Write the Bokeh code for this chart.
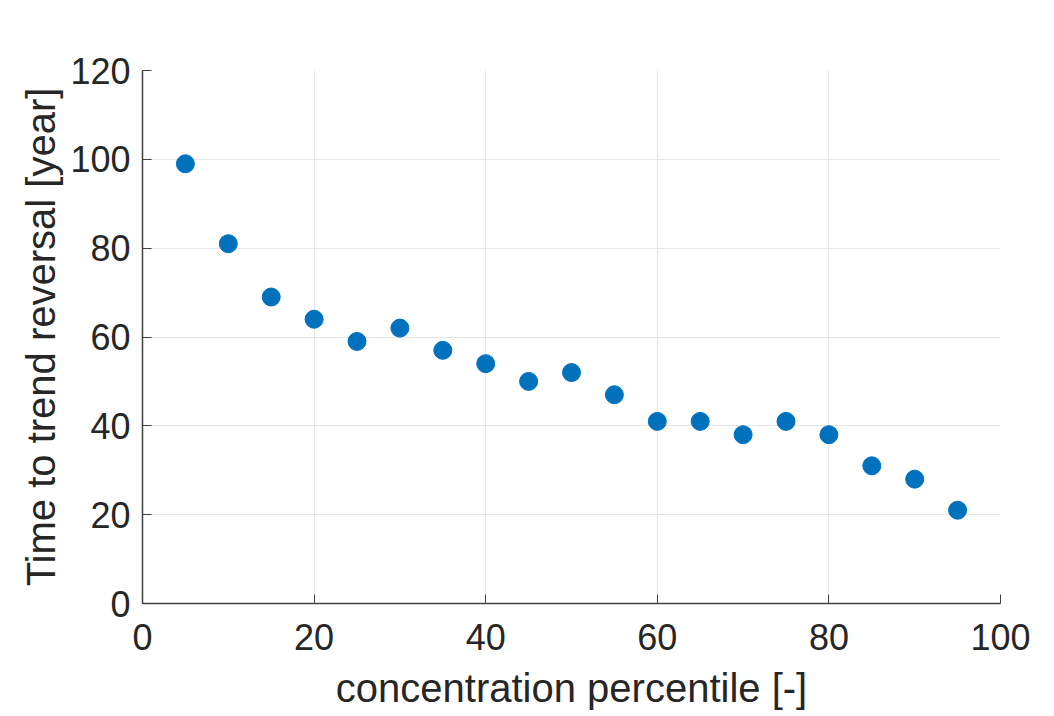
from bokeh.plotting import figure
from bokeh.models import Range1d, FixedTicker
from bokeh.embed import file_html
from bokeh.resources import INLINE

percentile = [5, 10, 15, 20, 25, 30, 35, 40, 45, 50, 55, 60, 65, 70, 75, 80, 85, 90, 95]
years = [99, 81, 69, 64, 59, 62, 57, 54, 50, 52, 47, 41, 41, 38, 41, 38, 31, 28, 21]
x_ticks = [0, 20, 40, 60, 80, 100]
y_ticks = [0, 20, 40, 60, 80, 100, 120]

FONT = "Liberation Sans"
TXT = "#262626"

p = figure(width=1038, height=700, frame_width=858, frame_height=533,
           output_backend="svg", toolbar_location=None,
           x_range=Range1d(0, 100), y_range=Range1d(0, 120),
           min_border_left=142, min_border_top=70, min_border_right=38, min_border_bottom=97)

p.scatter(percentile, years, size=18, color="#0072BD", line_color="#0072BD")

p.outline_line_color = None
p.background_fill_color = "white"
p.border_fill_color = "white"

for ax in (p.xaxis[0], p.yaxis[0]):
    ax.axis_line_color = "#404040"
    ax.axis_line_width = 1.5
    ax.major_tick_in = 9
    ax.major_tick_out = 0
    ax.major_tick_line_color = "#404040"
    ax.minor_tick_line_color = None
    ax.major_label_text_font = FONT
    ax.major_label_text_font_size = "36px"
    ax.major_label_text_color = TXT
    ax.axis_label_text_font = FONT
    ax.axis_label_text_font_size = "40px"
    ax.axis_label_text_font_style = "normal"
    ax.axis_label_text_color = TXT

p.xaxis.ticker = FixedTicker(ticks=x_ticks)
p.yaxis.ticker = FixedTicker(ticks=y_ticks)
p.xaxis.axis_label = "concentration percentile [-]"
p.yaxis.axis_label = "Time to trend reversal [year]"
p.xaxis.major_label_standoff = 20
p.yaxis.major_label_standoff = 12
p.xaxis.axis_label_standoff = 13
p.yaxis.axis_label_standoff = 4

p.xgrid.grid_line_color = "#e6e6e6"
p.ygrid.grid_line_color = "#e6e6e6"
p.xgrid.grid_line_width = 1.2
p.ygrid.grid_line_width = 1.2

open("out.html", "w").write(file_html(p, INLINE))
